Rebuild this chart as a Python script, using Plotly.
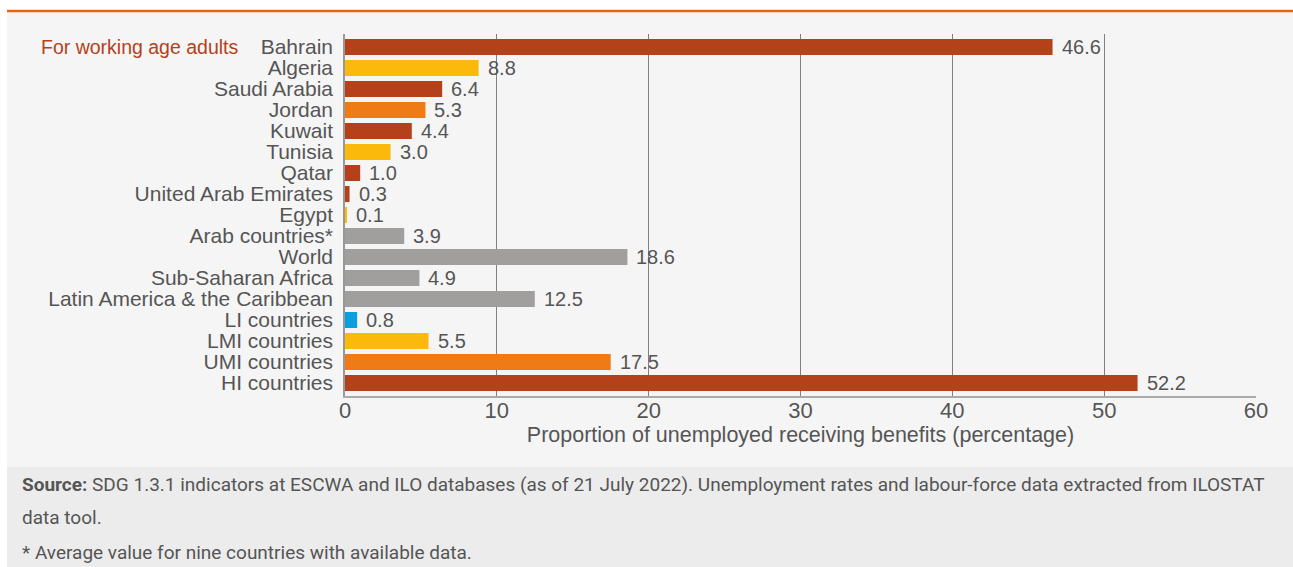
import plotly.graph_objects as go

categories = ["Bahrain", "Algeria", "Saudi Arabia", "Jordan", "Kuwait", "Tunisia", "Qatar",
              "United Arab Emirates", "Egypt", "Arab countries*", "World", "Sub-Saharan Africa",
              "Latin America &amp; the Caribbean", "LI countries", "LMI countries", "UMI countries",
              "HI countries"]
values = [46.6, 8.8, 6.4, 5.3, 4.4, 3.0, 1.0, 0.3, 0.1, 3.9, 18.6, 4.9, 12.5, 0.8, 5.5, 17.5, 52.2]
groups = ["HI", "LMI", "HI", "UMI", "HI", "LMI", "HI", "HI", "LMI", "REG", "REG", "REG", "REG",
          "LI", "LMI", "UMI", "HI"]
group_colors = {"HI": "#B5411A", "UMI": "#EF7B16", "LMI": "#FBBA0B", "LI": "#0AA0E0", "REG": "#A09F9E"}
x_ticks = [0, 10, 20, 30, 40, 50, 60]

W, H = 1293, 567
L, R, T, B = 345, 1256, 34, 396  # plot area in pixels

def px(xp):
    return (xp - L) / (R - L)

def py(yp):
    return (B - yp) / (B - T)

fig = go.Figure()
fig.add_trace(go.Bar(
    y=categories, x=values, orientation="h",
    marker=dict(color=[group_colors[g] for g in groups], line=dict(width=0)),
    width=0.76, hoverinfo="x+y",
))

annotations = []
for c, v in zip(categories, values):
    annotations.append(dict(x=v, y=c, xref="x", yref="y", text=f"{v:.1f}", showarrow=False,
                            xanchor="left", yanchor="middle", xshift=7,
                            font=dict(size=20, color="#555555")))

annotations.append(dict(x=px(39), y="Bahrain", xref="paper", yref="y", text="For working age adults",
                        showarrow=False, xanchor="left", yanchor="middle",
                        font=dict(size=19.5, color="#B5411A")))

src_font = "Roboto, sans-serif"
annotations.append(dict(x=px(20), y=py(484), xref="paper", yref="paper", showarrow=False,
                        xanchor="left", yanchor="middle", align="left",
                        text="<b>Source:</b> SDG 1.3.1 indicators at ESCWA and ILO databases (as of 21 July 2022). Unemployment rates and labour-force data extracted from ILOSTAT",
                        font=dict(size=19, color="#555555", family=src_font)))
annotations.append(dict(x=px(20), y=py(517), xref="paper", yref="paper", showarrow=False,
                        xanchor="left", yanchor="middle", align="left", text="data tool.",
                        font=dict(size=19, color="#555555", family=src_font)))
annotations.append(dict(x=px(20), y=py(552), xref="paper", yref="paper", showarrow=False,
                        xanchor="left", yanchor="middle", align="left",
                        text="* Average value for nine countries with available data.",
                        font=dict(size=19, color="#555555", family=src_font)))

shapes = [
    dict(type="rect", xref="paper", yref="paper", x0=px(7), x1=px(1293), y0=py(12), y1=py(467),
         fillcolor="#F5F5F5", line=dict(width=0), layer="below"),
    dict(type="rect", xref="paper", yref="paper", x0=px(7), x1=px(1293), y0=py(467), y1=py(567),
         fillcolor="#ECECEC", line=dict(width=0), layer="below"),
    dict(type="line", xref="paper", yref="paper", x0=px(7), x1=px(1293), y0=py(11), y1=py(11),
         line=dict(color="#E8650F", width=2.5)),
]

fig.update_layout(
    width=W, height=H,
    margin=dict(l=L, r=W - R, t=T, b=H - B, pad=0),
    paper_bgcolor="white", plot_bgcolor="rgba(0,0,0,0)",
    font=dict(family="Liberation Sans, Arial, sans-serif", color="#555555"),
    showlegend=False, bargap=0.24,
    annotations=annotations, shapes=shapes,
    xaxis=dict(range=[0, 60], tickvals=x_ticks, showgrid=True, gridcolor="#808080", gridwidth=1,
               zeroline=False, showline=True, linecolor="#AAAAAA", linewidth=1.5,
               ticks="", ticklabelstandoff=-6,
               tickfont=dict(size=22, color="#555555"),
               title=dict(text="Proportion of unemployed receiving benefits (percentage)",
                          font=dict(size=21.5, color="#555555"), standoff=0)),
    yaxis=dict(categoryorder="array", categoryarray=categories, autorange="reversed",
               tickmode="linear", dtick=1,
               showgrid=False, zeroline=False, showline=True, linecolor="#999999", linewidth=1.5,
               ticks="", ticklabelstandoff=6, tickfont=dict(size=21, color="#555555")),
)

fig.write_html("out.html")
